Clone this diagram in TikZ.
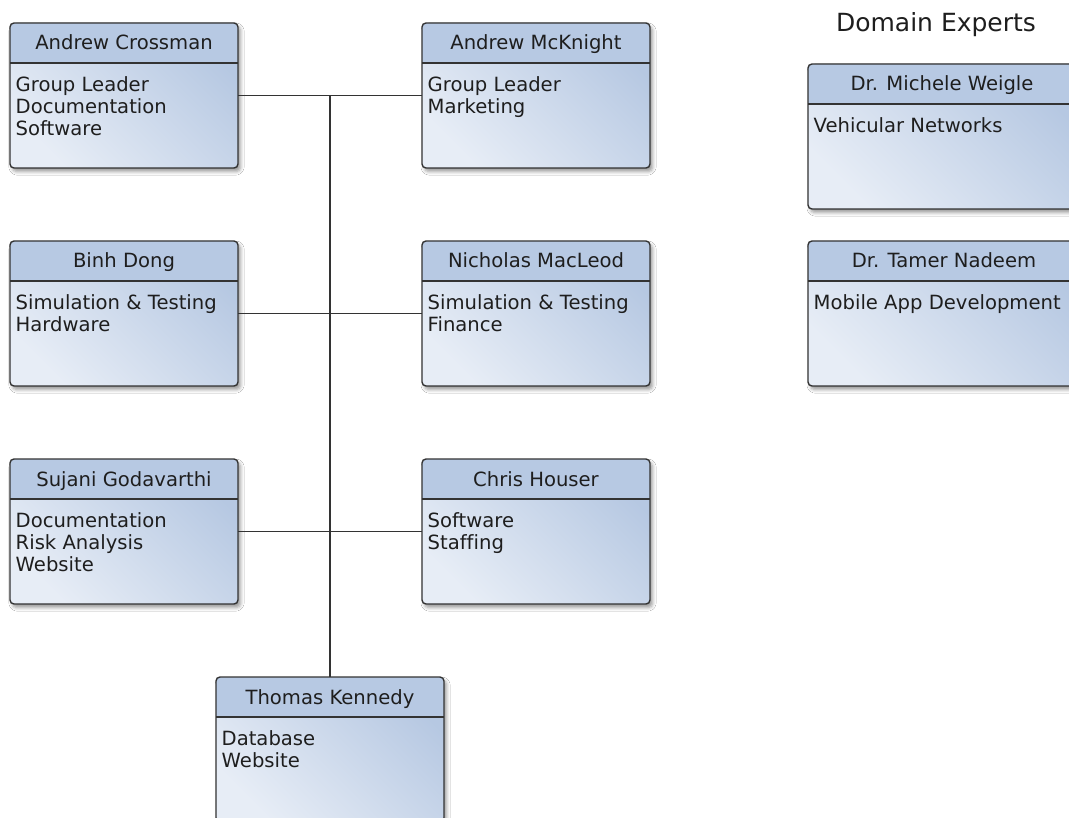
\documentclass[tikz,border=0pt]{standalone}
\usepackage{fontspec}
\setmainfont{DejaVu Sans}[Ligatures=NoCommon]
\usetikzlibrary{shadows.blur,calc}

\definecolor{hdrblue}{HTML}{B7C9E3}
\definecolor{bodylight}{HTML}{E7EDF6}
\definecolor{bodydark}{HTML}{B6C8E2}
\definecolor{edgegray}{HTML}{333333}
\definecolor{inkgray}{HTML}{1E1E1E}

\tikzset{
  membox/.style={rectangle, inner sep=0pt, outer sep=0pt,
    minimum height=145pt, rounded corners=4pt,
    top color=bodylight, bottom color=bodydark, shading angle=135,
    blur shadow={shadow xshift=2.5pt, shadow yshift=-3.5pt,
      shadow blur radius=3.5pt, shadow opacity=40}},
  border/.style={draw=edgegray, line width=1.4pt, rounded corners=4pt},
  sepline/.style={draw=edgegray, line width=1.4pt},
  link/.style={draw=edgegray, line width=1.4pt},
  ttl/.style={inner sep=0pt, text=inkgray, font=\fontsize{19.6}{22.4}\selectfont},
  bodytext/.style={inner sep=0pt, align=left, text=inkgray,
    font=\fontsize{19.6}{22.4}\selectfont},
}

% #1 name, #2 north-west corner, #3 width, #4 title, #5 body lines
\newcommand\member[5]{%
  \node[membox, minimum width=#3pt, anchor=north west] (#1) at (#2) {};
  \begin{scope}
    \clip[rounded corners=4pt] (#1.south west) rectangle (#1.north east);
    \fill[hdrblue] (#1.north west) rectangle ([yshift=-40pt]#1.north east);
  \end{scope}
  \draw[sepline] ([yshift=-40pt]#1.north west) -- ([yshift=-40pt]#1.north east);
  \draw[border] (#1.south west) rectangle (#1.north east);
  \node[ttl, anchor=base] (#1-t) at ([yshift=-27pt]#1.north) {#4};
  \node[bodytext, anchor=north west] (#1-b)
    at ([xshift=5.5pt,yshift=-52.3pt]#1.north west) {\strut #5};
}

\begin{document}
\begin{tikzpicture}[x=1pt,y=-1pt]
\useasboundingbox (0,0) rectangle (1069,818);
\clip (0,0) rectangle (1069,818);
\fill[white] (0,0) rectangle (1069,818);

% team members
\member{ac}{10,23}{228}{Andrew Crossman}{Group Leader\\Documentation\\Software}
\member{am}{422,23}{228}{Andrew McKnight}{Group Leader\\Marketing}
\member{bd}{10,241}{228}{Binh Dong}{Simulation \& Testing\\Hardware}
\member{nm}{422,241}{228}{Nicholas MacLeod}{Simulation \& Testing\\Finance}
\member{sg}{10,459}{228}{Sujani Godavarthi}{Documentation\\Risk Analysis\\Website}
\member{ch}{422,459}{228}{Chris Houser}{Software\\Staffing}
\member{tk}{216,677}{228}{Thomas Kennedy}{Database\\Website}

% domain experts
\node[anchor=base, inner sep=0pt, text=inkgray,
  font=\fontsize{25}{30}\selectfont] (dx) at (936,32) {Domain Experts};
\member{mw}{808,64}{268}{Dr. Michele Weigle}{Vehicular Networks}
\member{tn}{808,241}{272}{Dr. Tamer Nadeem}{Mobile App Development}

% connectors
\draw[link] (ac.east) -- (am.west);
\draw[link] (bd.east) -- (nm.west);
\draw[link] (sg.east) -- (ch.west);
\draw[link] (tk.north) -- (tk.north |- ac.east);
\end{tikzpicture}
\end{document}
